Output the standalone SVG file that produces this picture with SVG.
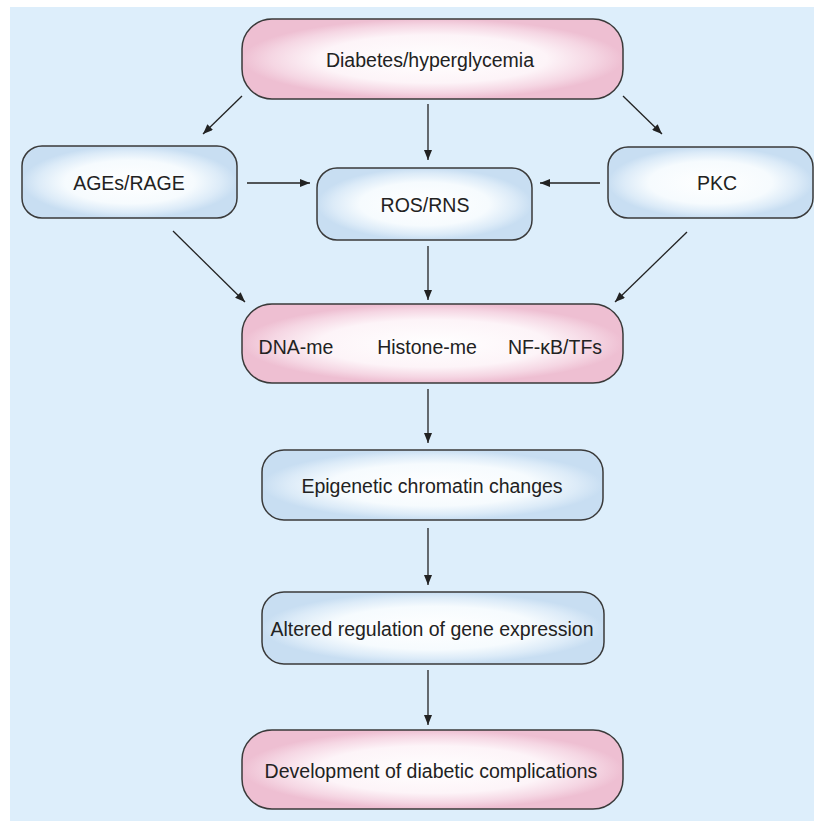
<svg xmlns="http://www.w3.org/2000/svg" width="814" height="821" viewBox="0 0 814 821">
<defs>
<radialGradient id="gPink" cx="0.5" cy="0.5" r="0.5">
<stop offset="0" stop-color="#ffffff"/>
<stop offset="0.6" stop-color="#fdf4f8"/>
<stop offset="0.85" stop-color="#f5d6e3"/>
<stop offset="1" stop-color="#eebfd2"/>
</radialGradient>
<radialGradient id="gBlue" cx="0.5" cy="0.5" r="0.5">
<stop offset="0" stop-color="#ffffff"/>
<stop offset="0.6" stop-color="#f6fbfe"/>
<stop offset="0.85" stop-color="#dcebf8"/>
<stop offset="1" stop-color="#c8def2"/>
</radialGradient>
<marker id="ah" viewBox="0 0 10 8" refX="10" refY="4" markerWidth="10" markerHeight="8" markerUnits="userSpaceOnUse" orient="auto">
<path d="M0,0 L10,4 L0,8 Z" fill="#222"/>
</marker>
</defs>
<style>
.pink{fill:url(#gPink);stroke:#3a3a3a;stroke-width:1.5}
.blue{fill:url(#gBlue);stroke:#3a3a3a;stroke-width:1.5}
text{font-family:"Liberation Sans",Arial,sans-serif;font-size:19.5px;fill:#222;text-anchor:middle;dominant-baseline:central}
.c line{stroke:#222;stroke-width:1.3;marker-end:url(#ah)}
</style>
<rect x="10" y="7" width="804" height="814" fill="#ddeefb"/>
<g class="c" id="connectors">
<line x1="242" y1="96" x2="203" y2="134"/>
<line x1="428" y1="104" x2="428" y2="160"/>
<line x1="623" y1="96" x2="662" y2="134"/>
<line x1="247" y1="183" x2="310" y2="183"/>
<line x1="600" y1="183" x2="540" y2="183"/>
<line x1="173" y1="231" x2="245" y2="302"/>
<line x1="428" y1="246" x2="428" y2="300"/>
<line x1="687" y1="232" x2="615" y2="302"/>
<line x1="428" y1="389" x2="428" y2="443"/>
<line x1="428" y1="528" x2="428" y2="585"/>
<line x1="428" y1="670" x2="428" y2="725"/>
</g>
<g id="diabetes">
<rect class="pink" x="242" y="19" width="381" height="80" rx="30"/>
<text x="430" y="60">Diabetes/hyperglycemia</text>
</g>
<g id="ages">
<rect class="blue" x="22" y="146" width="215" height="72" rx="20"/>
<text x="129" y="183">AGEs/RAGE</text>
</g>
<g id="ros">
<rect class="blue" x="317" y="168" width="215" height="72" rx="20"/>
<text x="425" y="205">ROS/RNS</text>
</g>
<g id="pkc">
<rect class="blue" x="608" y="147" width="205" height="71" rx="20"/>
<text x="717" y="183">PKC</text>
</g>
<g id="dna">
<rect class="pink" x="242" y="304" width="381" height="79" rx="30"/>
<text x="296" y="347">DNA-me</text>
<text x="427" y="347">Histone-me</text>
<text x="555" y="347">NF-κB/TFs</text>
</g>
<g id="epigenetic">
<rect class="blue" x="262" y="450" width="341" height="70" rx="22"/>
<text x="432" y="486">Epigenetic chromatin changes</text>
</g>
<g id="altered">
<rect class="blue" x="262" y="592" width="342" height="72" rx="22"/>
<text x="432" y="629">Altered regulation of gene expression</text>
</g>
<g id="development">
<rect class="pink" x="242" y="730" width="381" height="79" rx="30"/>
<text x="431" y="771">Development of diabetic complications</text>
</g>
</svg>
